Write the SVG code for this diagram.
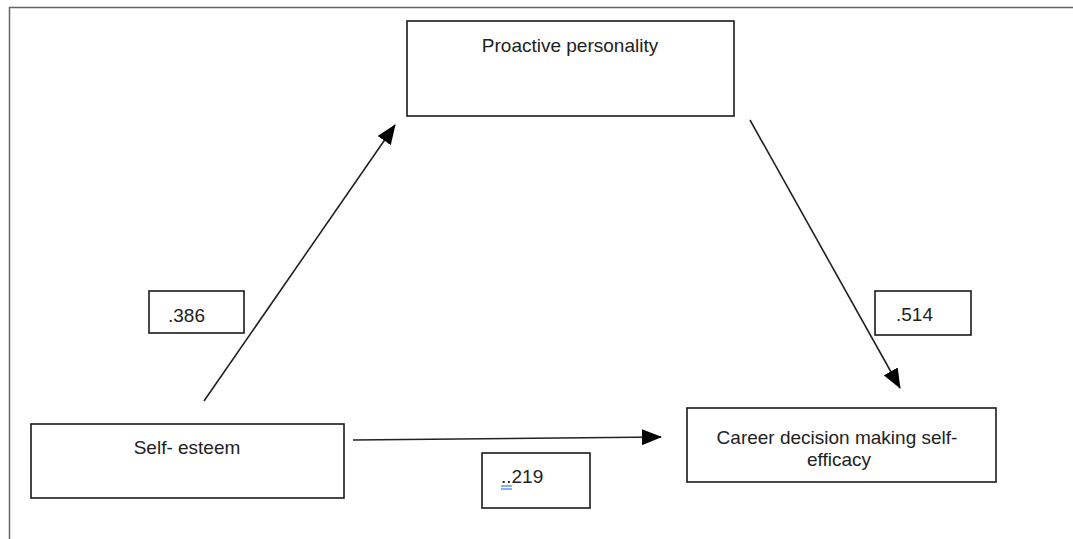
<svg xmlns="http://www.w3.org/2000/svg" width="1073" height="539" viewBox="0 0 1073 539">
<style>
.box{fill:#fff;stroke:#1a1a1a;stroke-width:1.6}
.lbl{font-family:"Liberation Sans",Arial,sans-serif;font-size:19px;fill:#222}
.conn{stroke:#222;stroke-width:1.6;fill:none}
.frame{stroke:#666;stroke-width:1.5;fill:none}
</style>
<defs>
<marker id="ah" markerUnits="userSpaceOnUse" markerWidth="20" markerHeight="16" viewBox="0 0 20 16" refX="19" refY="8" orient="auto">
<path d="M0,0 L20,8 L0,16 Z" fill="#000"/>
</marker>
</defs>
<rect width="1073" height="539" fill="#fff"/>
<path class="frame" d="M9.5,539 V7.5 H1073"/>
<g id="connectors">
<line class="conn" x1="204" y1="401" x2="395" y2="125" marker-end="url(#ah)"/>
<line class="conn" x1="750" y1="120" x2="900" y2="388" marker-end="url(#ah)"/>
<line class="conn" x1="353" y1="440" x2="661" y2="437" marker-end="url(#ah)"/>
</g>
<g id="node-proactive">
<rect class="box" x="407" y="21" width="327" height="95"/>
<text class="lbl" x="570" y="52" text-anchor="middle">Proactive personality</text>
</g>
<g id="node-selfesteem">
<rect class="box" x="31" y="424" width="313" height="74"/>
<text class="lbl" x="187" y="454" text-anchor="middle">Self- esteem</text>
</g>
<g id="node-career">
<rect class="box" x="687" y="408" width="309" height="74"/>
<text class="lbl" x="837" y="444" text-anchor="middle">Career decision making self-</text>
<text class="lbl" x="839" y="466" text-anchor="middle">efficacy</text>
</g>
<g id="label-386">
<rect class="box" x="149" y="291" width="95" height="42"/>
<text class="lbl" x="168" y="322">.386</text>
</g>
<g id="label-514">
<rect class="box" x="875" y="291" width="96" height="44"/>
<text class="lbl" x="896" y="321">.514</text>
</g>
<g id="label-219">
<rect class="box" x="482" y="453" width="108" height="55"/>
<text class="lbl" x="501" y="483">..219</text>
<line x1="501" y1="486" x2="512" y2="486" stroke="#4a86e8" stroke-width="1.3"/>
<line x1="501" y1="489" x2="512" y2="489" stroke="#4a86e8" stroke-width="1.3"/>
</g>
</svg>
